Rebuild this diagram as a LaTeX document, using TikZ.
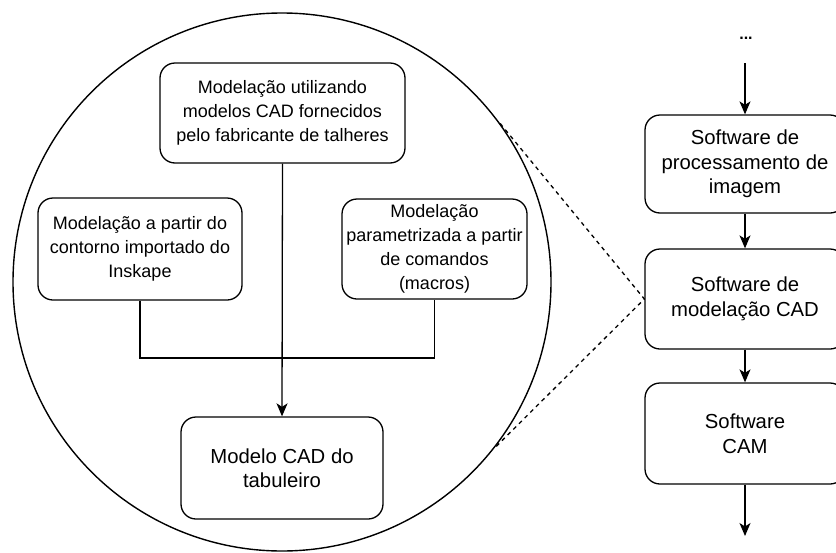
\documentclass[tikz,border=0pt]{standalone}
\usepackage{fontspec}
\setmainfont{Liberation Sans}
\usetikzlibrary{arrows.meta}

\tikzset{
  box/.style={draw, line width=1.3pt, rounded corners=15pt, align=center, inner sep=0pt},
  smallbox/.style={box, font=\fontsize{18}{24}\selectfont},
  bigbox/.style={box, font=\fontsize{20.3}{24.5}\selectfont},
  flow/.style={line width=1.3pt, -{Stealth[length=13pt,width=11pt,inset=3.5pt]}},
  link/.style={line width=1.3pt},
  zoomline/.style={line width=1.3pt, dash pattern=on 4pt off 4pt},
}

\begin{document}
\begin{tikzpicture}[x=1pt, y=-1pt]
  \clip (0,0) rectangle (836,552);
  \useasboundingbox (0,0) rectangle (836,552);

  % detail of the CAD step
  \node[draw, line width=1.4pt, circle, minimum size=538pt, inner sep=0pt] (circ) at (282,282) {};
  \node[smallbox, minimum width=245pt, minimum height=100pt] (fabricante) at (282.5,113)
    {Modelação utilizando\\modelos CAD fornecidos\\pelo fabricante de talheres};
  \node[smallbox, minimum width=204pt, minimum height=102pt] (inkscape) at (140,249)
    {Modelação a partir do\\contorno importado do\\Inskape};
  \node[smallbox, minimum width=185pt, minimum height=100pt] (macros) at (434.5,249)
    {Modelação\\parametrizada a partir\\de comandos\\(macros)};
  \node[bigbox, minimum width=202pt, minimum height=102pt] (tabuleiro) at (282,468)
    {Modelo CAD do\\tabuleiro};
  \coordinate (juncao) at (282,358);

  \draw[link] (inkscape.south) |- (juncao) -| (macros.south);
  \draw[flow] (fabricante.south) -- (tabuleiro.north);

  % software chain
  \node[font=\fontsize{16}{20}\selectfont\bfseries] (dots) at (746,38) {...};
  \coordinate (inicio) at (745,63);
  \node[bigbox, minimum width=200pt, minimum height=98pt] (imagem) at (745,164)
    {Software de\\processamento de\\imagem};
  \node[bigbox, minimum width=200pt, minimum height=100pt] (cad) at (745,299)
    {Software de\\modelação CAD};
  \node[bigbox, minimum width=200pt, minimum height=101pt] (cam) at (745,433.5)
    {Software\\CAM};
  \coordinate (fim) at (745,536);

  \draw[flow] (inicio) -- (imagem.north);
  \draw[flow] (imagem.south) -- (cad.north);
  \draw[flow] (cad.south) -- (cam.north);
  \draw[flow] (cam.south) -- (fim);

  \draw[zoomline] (circ.36) -- (cad.west) -- (circ.-38);
\end{tikzpicture}
\end{document}
